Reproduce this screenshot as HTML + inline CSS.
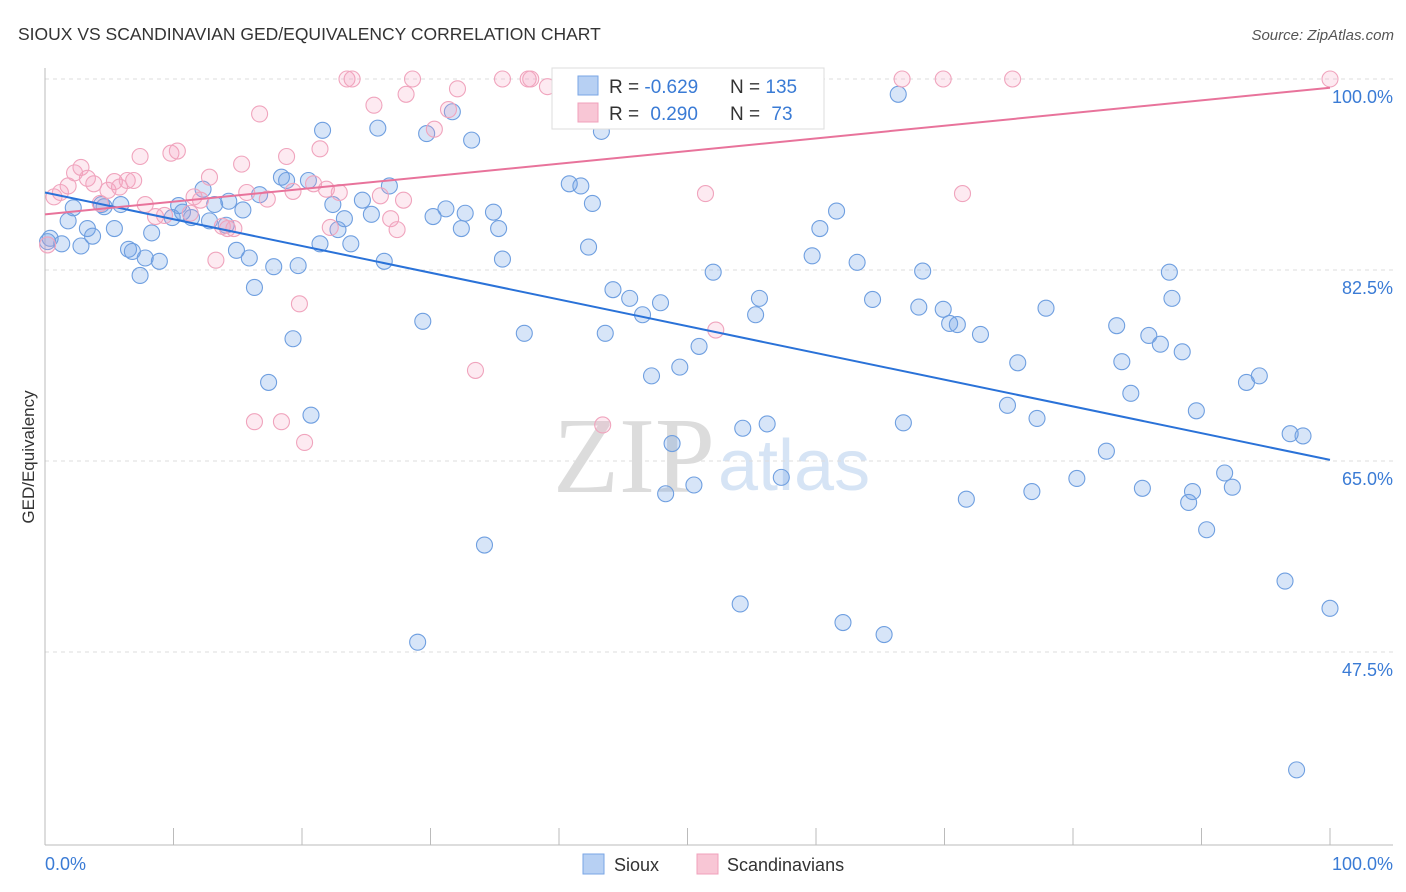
<!DOCTYPE html>
<html><head><meta charset="utf-8">
<style>
body{margin:0;background:#fff;font-family:"Liberation Sans",sans-serif;}
#wrap{position:relative;width:1406px;height:892px;overflow:hidden;}
</style></head>
<body><div id="wrap">
<svg id="svg" width="1406" height="892" xmlns="http://www.w3.org/2000/svg">
<text x="18" y="40" font-size="17.5" fill="#333">SIOUX VS SCANDINAVIAN GED/EQUIVALENCY CORRELATION CHART</text>
<text x="1394" y="40" font-size="15" fill="#555" text-anchor="end" font-style="italic">Source: ZipAtlas.com</text>
<text x="553" y="492" font-size="108" fill="#dcdcdc" font-family="Liberation Serif,serif">ZIP</text>
<text x="718" y="490" font-size="72" fill="#d6e4f5">atlas</text>
<text transform="translate(34,457) rotate(-90)" font-size="17" fill="#333" text-anchor="middle">GED/Equivalency</text>
<g id="grid"></g><g id="marks"></g><g id="lines"></g>
<g>
<rect x="552" y="68" width="272" height="61" fill="#fff" stroke="#ddd"/>
<rect x="578" y="76" width="20" height="19" fill="#b7d0f3" stroke="#7aa6e6"/>
<rect x="578" y="103" width="20" height="19" fill="#f8c6d5" stroke="#f0a0bb"/>
<text x="609" y="93" font-size="19" fill="#333">R = <tspan fill="#3a7bd5">-0.629</tspan></text>
<text x="730" y="93" font-size="19" fill="#333">N = <tspan fill="#3a7bd5">135</tspan></text>
<text x="609" y="120" font-size="19" fill="#333">R = <tspan fill="#3a7bd5" dx="6">0.290</tspan></text>
<text x="730" y="120" font-size="19" fill="#333">N = <tspan fill="#3a7bd5" dx="6">73</tspan></text>
</g>
<g>
<rect x="583" y="854" width="21" height="20" fill="#b7d0f3" stroke="#7aa6e6"/>
<text x="614" y="871" font-size="18" fill="#333">Sioux</text>
<rect x="697" y="854" width="21" height="20" fill="#f8c6d5" stroke="#f0a0bb"/>
<text x="727" y="871" font-size="18" fill="#333">Scandinavians</text>
</g>
<text x="45" y="870" font-size="18" fill="#3a7bd5">0.0%</text>
<text x="1393" y="870" font-size="18" fill="#3a7bd5" text-anchor="end">100.0%</text>
</svg>
<script>
const yTicks=[100,82.5,65,47.5];
const yTickLabels=["100.0%","82.5%","65.0%","47.5%"];
const siouxX=[0.4,1.3,1.8,2.2,2.8,3.3,3.7,4.4,4.6,5.4,5.9,6.5,6.8,7.4,7.8,8.3,8.9,9.9,10.4,10.7,11.4,12.3,12.8,13.2,14.1,14.3,14.9,15.4,15.9,16.3,16.7,17.4,17.8,18.4,18.8,19.3,19.7,20.5,20.7,21.4,21.6,22.4,22.8,23.3,23.8,24.7,25.4,25.9,26.4,26.8,29.0,29.4,29.7,30.2,31.2,31.7,32.4,32.7,33.2,34.2,34.9,35.3,35.6,37.3,40.8,41.7,42.3,42.6,43.3,43.6,44.2,45.5,46.5,47.2,47.9,48.3,48.8,49.4,50.5,50.9,52.0,54.1,54.3,55.3,55.6,56.2,57.3,59.7,60.3,61.6,62.1,63.2,64.4,65.3,66.4,66.8,68.0,68.3,69.9,70.4,71.0,71.7,72.8,74.9,75.7,76.8,77.2,77.9,80.3,82.6,83.4,83.8,84.5,85.4,85.9,86.8,87.5,87.7,88.5,89.0,89.3,89.6,90.4,91.8,92.4,93.5,94.5,96.5,96.9,97.4,97.9,100,0.2];
const siouxY=[85.4,84.9,87.0,88.2,84.7,86.3,85.6,88.5,88.3,86.3,88.5,84.4,84.2,82.0,83.6,85.9,83.3,87.3,88.4,87.8,87.3,89.9,87.0,88.5,86.6,88.8,84.3,88.0,83.6,80.9,89.4,72.2,82.8,91.0,90.7,76.2,82.9,90.7,69.2,84.9,95.3,88.5,86.2,87.2,84.9,88.9,87.6,95.5,83.3,90.2,48.4,77.8,95.0,87.4,88.1,97.0,86.3,87.7,94.4,57.3,87.8,86.3,83.5,76.7,90.4,90.2,84.6,88.6,95.2,76.7,80.7,79.9,78.4,72.8,79.5,62.0,66.6,73.6,62.8,75.5,82.3,51.9,68.0,78.4,79.9,68.4,63.5,83.8,86.3,87.9,50.2,83.2,79.8,49.1,98.6,68.5,79.1,82.4,78.9,77.6,77.5,61.5,76.6,70.1,74.0,62.2,68.9,79.0,63.4,65.9,77.4,74.1,71.2,62.5,76.5,75.7,82.3,79.9,75.0,61.2,62.2,69.6,58.7,63.9,62.6,72.2,72.8,54.0,67.5,36.7,67.3,51.5,85.1];
const scandX=[0.2,0.7,1.2,1.8,2.3,2.8,3.3,3.8,4.3,4.9,5.4,5.8,6.4,6.9,7.4,7.8,8.6,9.3,9.8,10.3,11.3,11.6,12.1,12.8,13.3,13.8,14.2,14.7,15.3,15.7,16.3,16.7,17.3,18.4,18.8,19.3,19.8,20.2,20.9,21.4,21.9,22.2,22.9,23.5,23.9,25.6,26.1,26.9,27.4,27.9,28.1,28.6,30.3,31.4,32.1,33.5,35.6,37.6,37.8,39.1,43.4,47.4,51.4,52.2,66.7,69.9,71.4,75.3,100];
const scandY=[84.8,89.2,89.6,90.2,91.4,91.9,90.9,90.4,88.6,89.8,90.6,90.1,90.7,90.7,92.9,88.5,87.4,87.5,93.2,93.4,87.7,89.2,88.9,91.0,83.4,86.5,86.3,86.3,92.2,89.6,68.6,96.8,89.0,68.6,92.9,89.7,79.4,66.7,90.4,93.6,89.9,86.4,89.6,100,100,97.6,89.3,87.2,86.2,88.9,98.6,100,95.4,97.2,99.1,73.3,100,100,100,99.3,68.3,100,89.5,77.0,100,100,89.5,100,100];
const siouxTrend=[89.6,65.1];
const scandTrend=[87.6,99.2];
const xTicks=[0,10,20,30,40,50,60,70,80,90,100];

const NS="http://www.w3.org/2000/svg";
const X0=45,X1=1330;
function sx(v){return X0+(X1-X0)*v/100;}
function sy(v){return 79+(100-v)*191/17.5;}
function mk(tag,attrs,parent){const e=document.createElementNS(NS,tag);for(const k in attrs)e.setAttribute(k,attrs[k]);parent.appendChild(e);return e;}
const grid=document.getElementById('grid'),marks=document.getElementById('marks'),lines=document.getElementById('lines');
yTicks.forEach((t,i)=>{
 const l=mk('line',{x1:45,x2:1393,y1:sy(t),y2:sy(t),stroke:'#ddd','stroke-dasharray':'4,4'},grid);
 
 
 const tx=mk('text',{x:1393,y:sy(t)+24,'font-size':18,fill:'#3a7bd5','text-anchor':'end'},grid);
 tx.textContent=yTickLabels[i];
 
 
});
const ax=mk('line',{x1:45,x2:1393,y1:845,y2:845,stroke:'#bbb'},grid);


const ay=mk('line',{x1:45,x2:45,y1:68,y2:845,stroke:'#bbb'},grid);


xTicks.forEach(t=>{
 const l=mk('line',{x1:sx(t),x2:sx(t),y1:828,y2:845,stroke:'#bbb'},grid);
 
 
});
siouxX.forEach((x,i)=>{
 const c=mk('circle',{cx:sx(x),cy:sy(siouxY[i]),r:8,fill:'rgba(110,160,230,0.28)',stroke:'#6f9fe0','stroke-width':1.1},marks);
 
 
});
scandX.forEach((x,i)=>{
 const c=mk('circle',{cx:sx(x),cy:sy(scandY[i]),r:8,fill:'rgba(245,160,190,0.22)',stroke:'#f0a4bd','stroke-width':1.1},marks);
 
 
});
const bl=mk('line',{x1:sx(0),x2:sx(100),y1:sy(siouxTrend[0]),y2:sy(siouxTrend[1]),stroke:'#2a72d8','stroke-width':2},lines);


const pl=mk('line',{x1:sx(0),x2:sx(100),y1:sy(scandTrend[0]),y2:sy(scandTrend[1]),stroke:'#e8739b','stroke-width':2},lines);


</script>
</div></body></html>
